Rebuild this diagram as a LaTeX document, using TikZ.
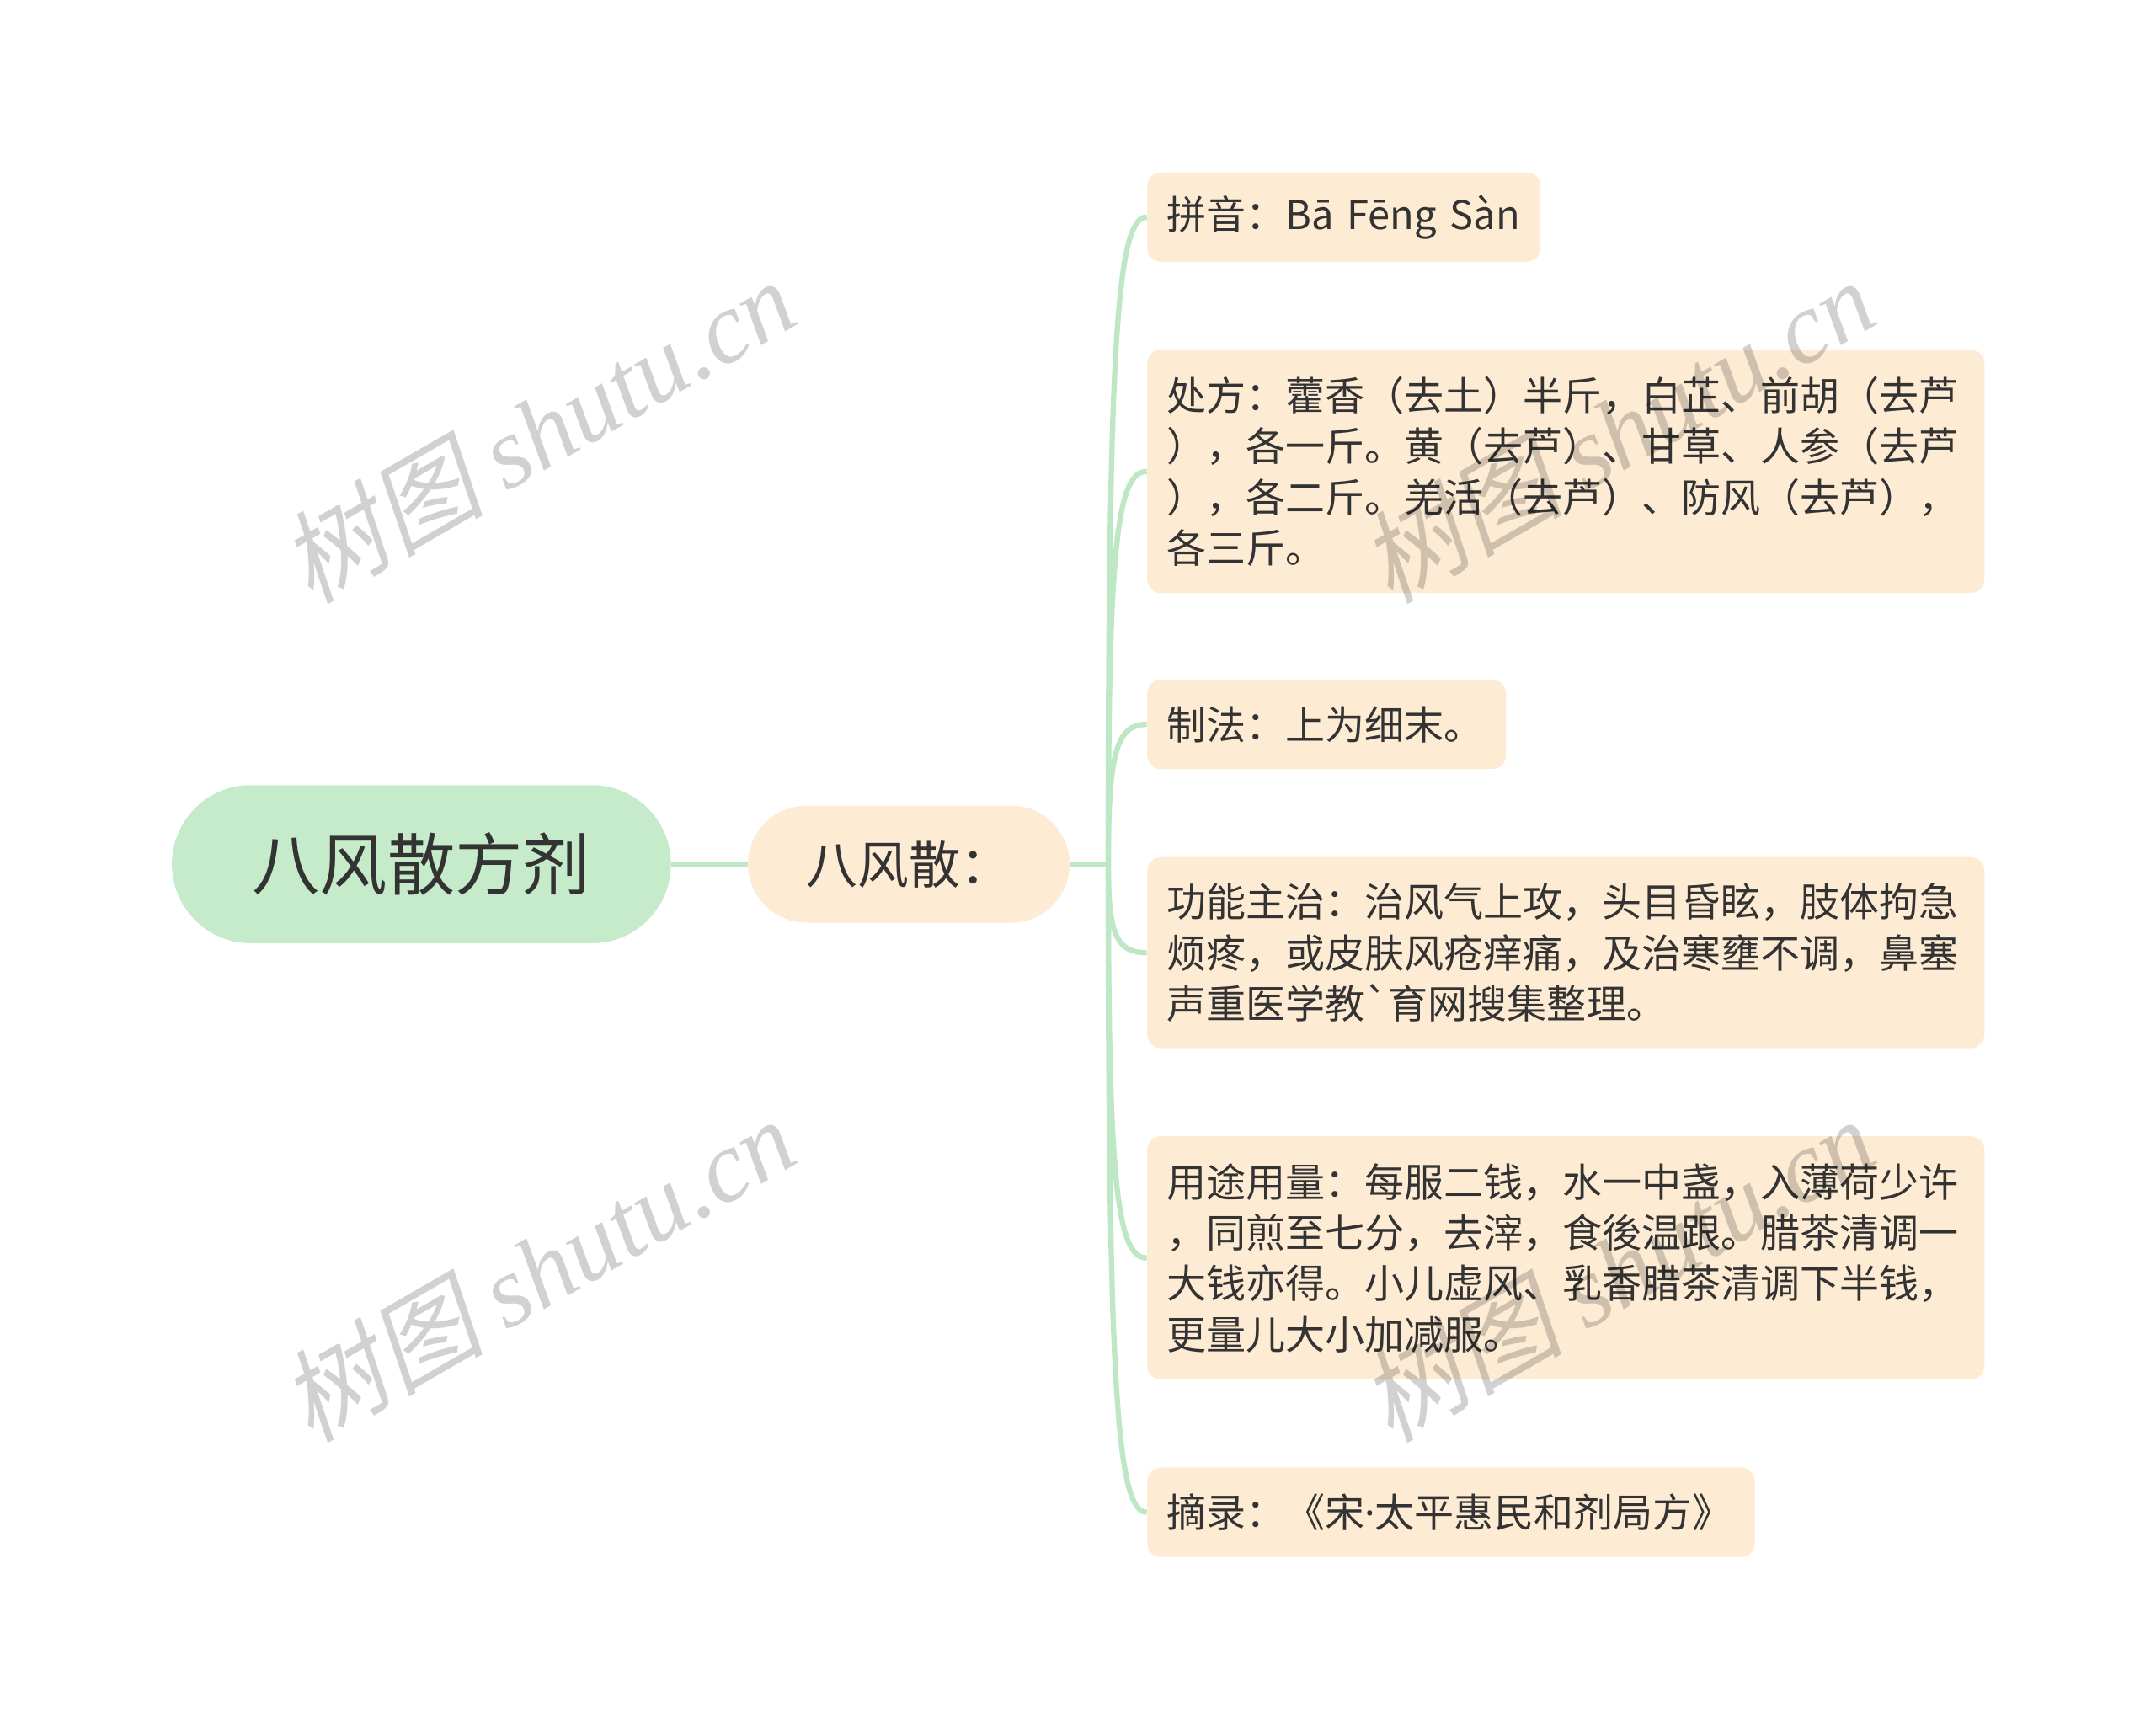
\documentclass[tikz,border=0pt]{standalone}
\usepackage{fontspec}
\setmainfont{Noto Sans CJK SC}[Ligatures=TeXOff]
\newfontfamily\wmcjk{Noto Sans CJK SC}[FakeSlant=0.2]
\newfontfamily\wmlatin{Liberation Serif}
\newfontfamily\latindot{Noto Sans}
\usetikzlibrary{calc}
\definecolor{rootfill}{RGB}{197,235,202}
\definecolor{leaffill}{RGB}{253,235,212}
\definecolor{linecol}{RGB}{190,231,198}
\definecolor{txt}{RGB}{51,51,51}
\tikzset{
  x=0.02cm, y=-0.02cm,
  rootbox/.style={fill=rootfill, text=txt, rounded corners=1.15cm,
    minimum width=7.26cm, minimum height=2.3cm, inner sep=0pt,
    font=\fontsize{28pt}{34pt}\selectfont},
  childbox/.style={fill=leaffill, text=txt, rounded corners=0.85cm,
    minimum width=4.68cm, minimum height=1.7cm, inner sep=0pt,
    font=\fontsize{21.2pt}{26pt}\selectfont},
  leafbox/.style={fill=leaffill, text=txt, rounded corners=0.2cm,
    anchor=north west, inner xsep=0.28cm, inner ysep=0pt, align=left,
    font=\fontsize{16.4pt}{21.05pt}\selectfont},
  conn/.style={draw=linecol, line width=2.2pt},
  wm/.style={text=black, opacity=0.18, rotate=30, inner sep=0pt,
    font=\fontsize{42pt}{48pt}\selectfont}
}
\begin{document}
\begin{tikzpicture}
\useasboundingbox (0,0) rectangle (1568,1257);

\node[rootbox] (root) at (306.5,628.5) {八风散方剂};
\node[childbox] (child) at (661,628.5) {八风散：};

\node[leafbox, text width=5.16cm, minimum height=1.3cm] (L1) at (834,125) {拼音：Bā Fēng Sàn};
\node[leafbox, text width=11.62cm, minimum height=3.54cm] (L2) at (834,254)
  {处方：藿香（去土）半斤，白芷、前胡（去芦\\），各一斤。黄（去芦）、甘草、人参（去芦\\），各二斤。羌活（去芦）、防风（去芦），\\各三斤。};
\node[leafbox, text width=4.66cm, minimum height=1.3cm] (L3) at (834,494) {制法：上为细末。};
\node[leafbox, text width=11.62cm, minimum height=2.78cm] (L4) at (834,623)
  {功能主治：治风气上攻，头目昏眩，肢体拘急\\烦疼，或皮肤风疮痒痛，及治寒壅不调，鼻塞\\声重医学教`育网搜集整理。};
\node[leafbox, text width=11.62cm, minimum height=3.54cm] (L5) at (834,826)
  {用途用量：每服二钱，水一中盏，入薄荷少许\\，同煎至七分，去滓，食後温跟。腊茶清调一\\大钱亦得。小儿虚风、乳香腊茶清调下半钱，\\更量儿大小加减服。};
\node[leafbox, text width=8.28cm, minimum height=1.3cm] (L6) at (834,1067) {摘录：《宋{\latindot ·}太平惠民和剂局方》};

\coordinate (j) at (806,628.5);
\draw[conn] (root.east) -- (child.west);
\draw[conn] (child.east) -- (j);
\foreach \n in {L1,L2,L3,L4,L5,L6}{
  \draw[conn] (j) .. controls ($(j)!0.8!(j|-\n.west)$) and ($(\n.west)+(-22,0)$) .. (\n.west);
}

\foreach \p [count=\i] in {(391,313),(1176,313),(391,923),(1176,923)}{
  \node[wm] (wm\i) at \p {{\wmcjk 树图} {\wmlatin\itshape shutu.cn}};
}
\end{tikzpicture}
\end{document}
